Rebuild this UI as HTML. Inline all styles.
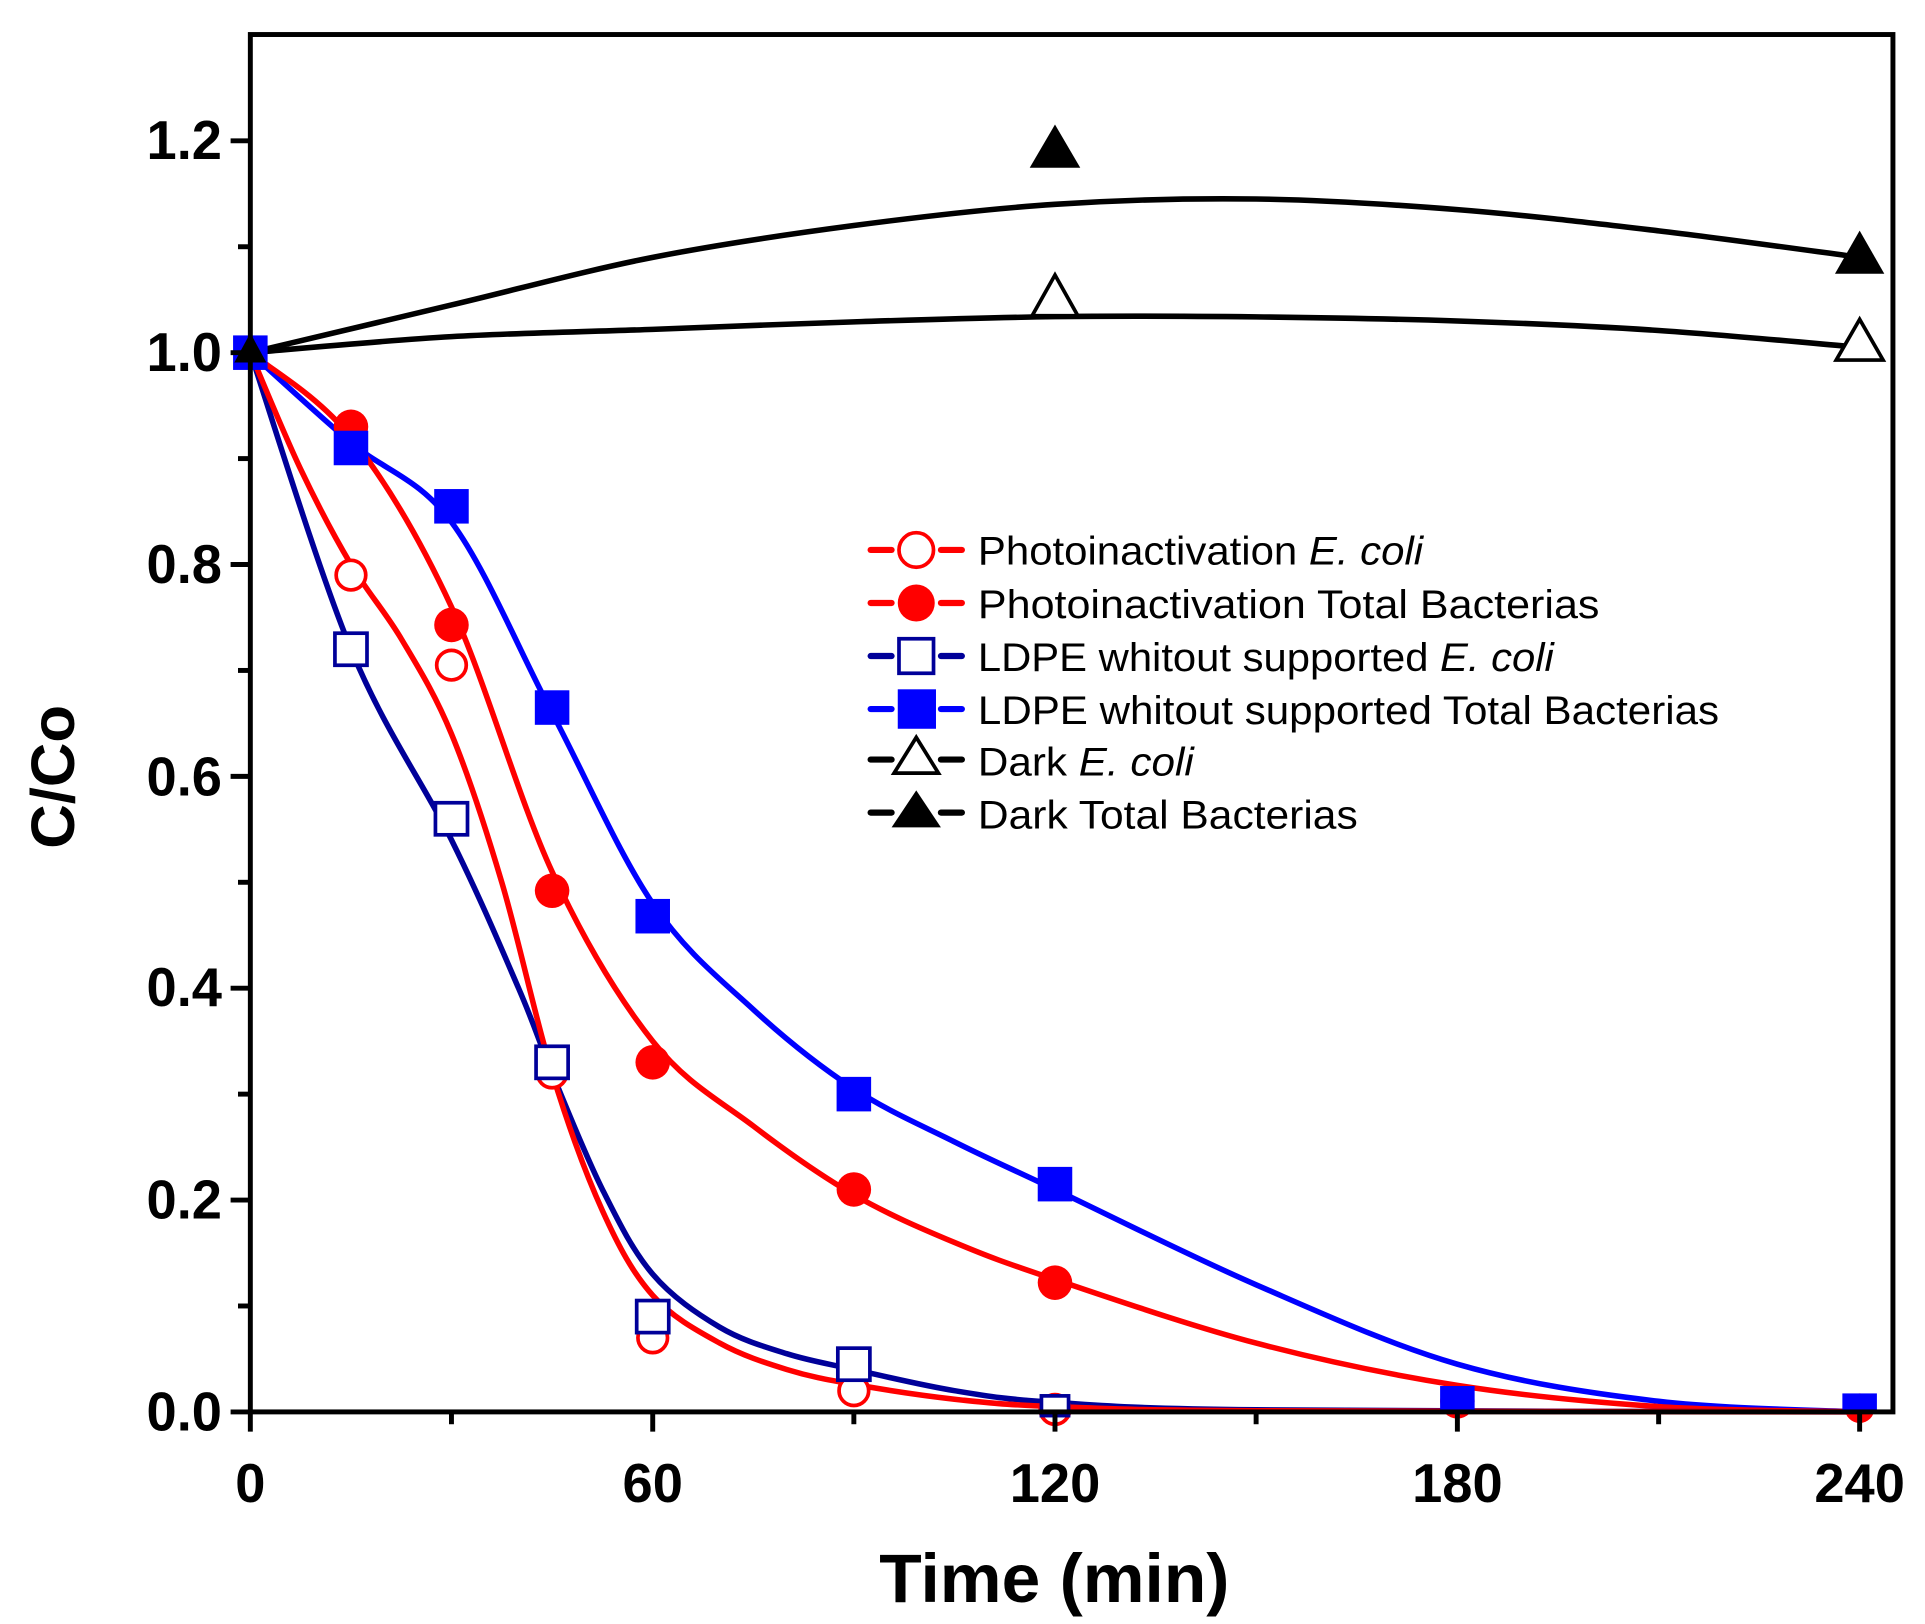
<!DOCTYPE html>
<html><head><meta charset="utf-8"><style>html,body{margin:0;padding:0;background:#fff}svg{display:block}</style></head>
<body>
<svg width="1925" height="1624" viewBox="0 0 1561 1317" preserveAspectRatio="none" xmlns="http://www.w3.org/2000/svg" font-family="'Liberation Sans', Arial, sans-serif">
<rect width="1561" height="1317" fill="#fff"/>
<g id="curves" fill="none" stroke-width="4.5" stroke-linejoin="round" stroke-linecap="round">
<polyline stroke="#000" points="203,286 366.1,273 529.3,267.1 692.4,261 855.5,256.8 1018.6,257 1181.8,260.3 1345,268 1508,281.7"/>
<polyline stroke="#000" points="203,286 366.1,247.3 529.3,208.7 692.4,182.9 855.5,165.7 1018.6,161.4 1181.8,170 1345,187.2 1508,208.7"/>
<polyline stroke="#0000ff" points="203,286 284.6,359 366.1,423.4 447.7,578.1 529.3,732.7 610.8,818.6 692.4,883 774,926 855.5,964.6 1018.6,1041.9 1181.8,1106.3 1345,1136.4 1508,1145"/>
<polyline stroke="#ff0000" points="203,286 284.6,354.7 366.1,492.2 447.7,706.9 529.3,844.4 610.8,913.1 692.4,968.9 774,1007.6 855.5,1037.6 1018.6,1089.2 1181.8,1123.5 1345,1140.7 1508,1145"/>
<polyline stroke="#000099" points="203,286 284.6,526.5 366.1,681.1 420.5,801.4 447.7,870.1 488.5,964.6 529.3,1033.3 583.6,1076.3 638,1097.8 692.4,1110.6 774,1127.8 855.5,1137.3 1018.6,1143.3 1508,1145"/>
<polyline stroke="#ff0000" points="203,286 243.8,380.5 284.6,457.8 325.3,517.9 366.1,595.2 406.9,715.5 447.7,870.1 488.5,981.8 529.3,1050.5 583.6,1089.2 638,1110.6 692.4,1122.7 774,1134.7 855.5,1140.7 1018.6,1144.1 1508,1145"/>
</g>
<g fill="#fff" stroke="#ff0000" stroke-width="3">
<circle cx="203" cy="286" r="12"/><circle cx="284.6" cy="466.4" r="12"/><circle cx="366.1" cy="539.4" r="12"/><circle cx="447.7" cy="870.1" r="12"/><circle cx="529.3" cy="1084.9" r="12"/><circle cx="692.4" cy="1127.8" r="12"/><circle cx="855.5" cy="1143" r="12"/>
</g>
<g fill="#ff0000">
<circle cx="284.6" cy="346.1" r="14"/><circle cx="366.1" cy="506.8" r="14"/><circle cx="447.7" cy="722.4" r="14"/><circle cx="529.3" cy="861.5" r="14"/><circle cx="692.4" cy="964.6" r="14"/><circle cx="855.5" cy="1040.2" r="14"/><circle cx="1181.8" cy="1136.4" r="14"/><circle cx="1508" cy="1142" r="12"/>
</g>
<g fill="#fff" stroke="#000099" stroke-width="3">
<rect x="271.6" y="513.5" width="26" height="26"/><rect x="353.1" y="651" width="26" height="26"/><rect x="434.7" y="848.5" width="26" height="26"/><rect x="516.3" y="1054.7" width="26" height="26"/><rect x="679.4" y="1093.3" width="26" height="26"/><rect x="844.5" y="1132" width="22" height="16"/>
</g>
<g fill="#0000ff">
<rect x="189" y="272" width="28" height="28"/><rect x="270.6" y="349.3" width="28" height="28"/><rect x="352.1" y="396.6" width="28" height="28"/><rect x="433.7" y="559.8" width="28" height="28"/><rect x="515.3" y="729" width="28" height="28"/><rect x="678.4" y="873.3" width="28" height="28"/><rect x="841.5" y="946.3" width="28" height="28"/><rect x="1167.8" y="1124" width="28" height="22"/><rect x="1494" y="1130" width="28" height="16"/>
</g>
<g fill="#fff" stroke="#000" stroke-width="3">
<polygon points="855.5,223 837,256 874,256"/><polygon points="1508,259 1489,292 1527,292"/>
</g>
<g fill="#000">
<polygon points="855.5,101 835,136 876,136"/><polygon points="1508,187 1488,222 1528,222"/><polygon points="203,270 190,294 216,294"/>
</g>
<rect x="203" y="28" width="1332" height="1117" fill="none" stroke="#000" stroke-width="4"/>
<g stroke="#000" stroke-width="4">
<line x1="187" y1="1145" x2="203" y2="1145"/><line x1="187" y1="973.2" x2="203" y2="973.2"/><line x1="187" y1="801.4" x2="203" y2="801.4"/><line x1="187" y1="629.6" x2="203" y2="629.6"/><line x1="187" y1="457.8" x2="203" y2="457.8"/><line x1="187" y1="286" x2="203" y2="286"/><line x1="187" y1="114.2" x2="203" y2="114.2"/>
<line x1="193" y1="1059.1" x2="203" y2="1059.1"/><line x1="193" y1="887.3" x2="203" y2="887.3"/><line x1="193" y1="715.5" x2="203" y2="715.5"/><line x1="193" y1="543.7" x2="203" y2="543.7"/><line x1="193" y1="371.9" x2="203" y2="371.9"/><line x1="193" y1="200.1" x2="203" y2="200.1"/>
<line x1="203" y1="1145" x2="203" y2="1161"/><line x1="529.3" y1="1145" x2="529.3" y2="1161"/><line x1="855.5" y1="1145" x2="855.5" y2="1161"/><line x1="1181.8" y1="1145" x2="1181.8" y2="1161"/><line x1="1508" y1="1145" x2="1508" y2="1161"/>
<line x1="366.1" y1="1145" x2="366.1" y2="1155"/><line x1="692.4" y1="1145" x2="692.4" y2="1155"/><line x1="1018.6" y1="1145" x2="1018.6" y2="1155"/><line x1="1345" y1="1145" x2="1345" y2="1155"/>
</g>
<g font-weight="bold" font-size="44" text-anchor="end" font-family="'Liberation Sans Narrow','Liberation Sans',Arial,sans-serif">
<text x="180" y="1160">0.0</text><text x="180" y="988">0.2</text><text x="180" y="816">0.4</text><text x="180" y="645">0.6</text><text x="180" y="473">0.8</text><text x="180" y="301">1.0</text><text x="180" y="129">1.2</text>
</g>
<g font-weight="bold" font-size="44" text-anchor="middle" font-family="'Liberation Sans Narrow','Liberation Sans',Arial,sans-serif">
<text x="203" y="1218">0</text><text x="529.3" y="1218">60</text><text x="855.5" y="1218">120</text><text x="1181.8" y="1218">180</text><text x="1508" y="1218">240</text>
</g>
<text x="713" y="1299" font-weight="bold" font-size="56" textLength="284" lengthAdjust="spacingAndGlyphs" font-family="'Liberation Sans Narrow','Liberation Sans',Arial,sans-serif">Time (min)</text>
<text transform="translate(60,630) rotate(-90)" font-weight="bold" font-size="50" text-anchor="middle">C/Co</text>
<g stroke-width="5" stroke-linecap="round">
<line x1="706" y1="446" x2="723" y2="446" stroke="#ff0000"/><line x1="763" y1="446" x2="780" y2="446" stroke="#ff0000"/>
<line x1="706" y1="489" x2="723" y2="489" stroke="#ff0000"/><line x1="763" y1="489" x2="780" y2="489" stroke="#ff0000"/>
<line x1="706" y1="532" x2="723" y2="532" stroke="#000099"/><line x1="763" y1="532" x2="780" y2="532" stroke="#000099"/>
<line x1="706" y1="575" x2="723" y2="575" stroke="#0000ff"/><line x1="763" y1="575" x2="780" y2="575" stroke="#0000ff"/>
<line x1="706" y1="616" x2="723" y2="616" stroke="#000"/><line x1="763" y1="616" x2="780" y2="616" stroke="#000"/>
<line x1="706" y1="659" x2="723" y2="659" stroke="#000"/><line x1="763" y1="659" x2="780" y2="659" stroke="#000"/>
</g>
<circle cx="743" cy="446" r="14" fill="#fff" stroke="#ff0000" stroke-width="3"/>
<circle cx="743" cy="489" r="15" fill="#ff0000"/>
<rect x="729" y="518" width="28" height="28" fill="#fff" stroke="#000099" stroke-width="3"/>
<rect x="728" y="559" width="31" height="32" fill="#0000ff"/>
<polygon points="743,598 725,627 761,627" fill="#fff" stroke="#000" stroke-width="3"/>
<polygon points="743,641 723,671 763,671" fill="#000"/>
<g font-size="32" font-family="'Liberation Sans Narrow','Liberation Sans',Arial,sans-serif">
<text x="793" y="458" textLength="361" lengthAdjust="spacingAndGlyphs">Photoinactivation <tspan font-style="italic">E. coli</tspan></text>
<text x="793" y="501" textLength="504" lengthAdjust="spacingAndGlyphs">Photoinactivation  Total Bacterias</text>
<text x="793" y="544" textLength="467" lengthAdjust="spacingAndGlyphs">LDPE whitout supported <tspan font-style="italic">E. coli</tspan></text>
<text x="793" y="587" textLength="601" lengthAdjust="spacingAndGlyphs">LDPE whitout supported Total Bacterias</text>
<text x="793" y="629" textLength="175" lengthAdjust="spacingAndGlyphs">Dark <tspan font-style="italic">E. coli</tspan></text>
<text x="793" y="672" textLength="308" lengthAdjust="spacingAndGlyphs">Dark Total Bacterias</text>
</g>
</svg>
<script>
(function(){
var pls=document.querySelectorAll('#curves polyline');
for(var k=0;k<pls.length;k++){
 var pl=pls[k];var s=pl.getAttribute('points').trim().split(/\s+/).map(function(p){return p.split(',').map(Number);});
 var d='M'+s[0][0]+','+s[0][1];
 for(var i=0;i<s.length-1;i++){
  var p0=s[i-1]||s[i],p1=s[i],p2=s[i+1],p3=s[i+2]||s[i+1];
  var c1x=p1[0]+(p2[0]-p0[0])/6,c1y=p1[1]+(p2[1]-p0[1])/6;
  var c2x=p2[0]-(p3[0]-p1[0])/6,c2y=p2[1]-(p3[1]-p1[1])/6;
  d+=' C'+c1x.toFixed(1)+','+c1y.toFixed(1)+' '+c2x.toFixed(1)+','+c2y.toFixed(1)+' '+p2[0]+','+p2[1];
 }
 var path=document.createElementNS('http://www.w3.org/2000/svg','path');
 path.setAttribute('d',d);path.setAttribute('stroke',pl.getAttribute('stroke'));
 pl.parentNode.replaceChild(path,pl);
}
})();
</script>
</body></html>
